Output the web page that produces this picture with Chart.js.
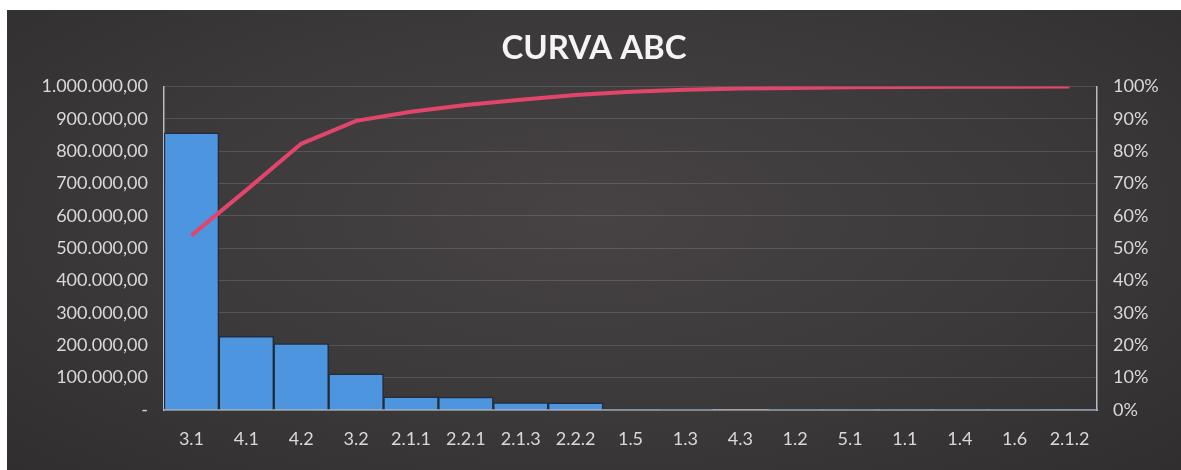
<!DOCTYPE html>
<html>
<head>
<meta charset="utf-8">
<title>Curva ABC</title>
<script src="https://cdn.jsdelivr.net/npm/chart.js@4"></script>
<style>
  html, body { margin: 0; padding: 0; background: #fff; }
  body { width: 1181px; height: 470px; overflow: hidden; position: relative; }
  .panel {
    position: absolute;
    left: 7px;
    top: 10px;
    width: 1174px;
    height: 460px;
    background: radial-gradient(ellipse at 50% 45%, #474345 0%, #3c393b 55%, #302e2f 100%);
  }
</style>
</head>
<body>
<div class="panel">
  <canvas id="abcChart" width="1174" height="460"></canvas>
</div>

<script>
// Data
const categories = ["3.1", "4.1", "4.2", "3.2", "2.1.1", "2.2.1", "2.1.3", "2.2.2", "1.5", "1.3", "4.3", "1.2", "5.1", "1.1", "1.4", "1.6", "2.1.2"];
const values = [857000, 228000, 205000, 112000, 41000, 40000, 23000, 22000, 3000, 2000, 1500, 1200, 1000, 800, 500, 300, 200];
const cumulativePct = [54, 68, 82.3, 89.4, 92.2, 94.3, 95.9, 97.4, 98.4, 99.0, 99.4, 99.6, 99.8, 99.9, 99.95, 99.98, 100];

const TEXT_COLOR = "#dcd8d9";
const AXIS_COLOR = "#bdbabb";
const FONT = "Lato";

// Format number as 1.000.000,00 (pt-BR), zero as "-"
function formatBRL(v) {
  if (v === 0) return "-";
  const parts = v.toFixed(2).split(".");
  const intPart = parts[0].replace(/\B(?=(\d{3})+(?!\d))/g, ".");
  return intPart + "," + parts[1];
}

const ctx = document.getElementById("abcChart");

new Chart(ctx, {
  data: {
    labels: categories,
    datasets: [
      {
        type: "line",
        label: "% acumulado",
        data: cumulativePct,
        yAxisID: "y1",
        borderColor: "#e2456b",
        borderWidth: 4,
        pointRadius: 0,
        tension: 0,
        order: 0
      },
      {
        type: "bar",
        label: "Valor",
        data: values,
        yAxisID: "y",
        backgroundColor: "#4e95e0",
        borderColor: "#222c3a",
        borderWidth: 1.5,
        categoryPercentage: 1,
        barPercentage: 1,
        order: 1
      }
    ]
  },
  options: {
    responsive: false,
    animation: false,
    layout: { padding: 0 },
    plugins: {
      legend: { display: false },
      tooltip: { enabled: false },
      title: {
        display: true,
        text: "CURVA ABC",
        color: "#f4f4f4",
        font: { family: FONT, size: 33, weight: "bold" },
        padding: { top: 19, bottom: 18 }
      }
    },
    scales: {
      x: {
        grid: { display: false, drawTicks: false },
        border: { display: true, color: AXIS_COLOR, width: 1.5 },
        ticks: {
          color: TEXT_COLOR,
          font: { family: FONT, size: 18 },
          padding: 18,
          maxRotation: 0,
          autoSkip: false
        },
        afterFit: scale => { scale.height = 60; }
      },
      y: {
        position: "left",
        min: 0,
        max: 1000000,
        grid: { color: "rgba(255,255,255,0.13)", lineWidth: 1, drawTicks: false },
        border: { display: true, color: AXIS_COLOR, width: 1.5 },
        ticks: {
          stepSize: 100000,
          color: TEXT_COLOR,
          font: { family: FONT, size: 18 },
          padding: 16,
          callback: v => formatBRL(v)
        },
        afterFit: scale => { scale.width = 157; }
      },
      y1: {
        position: "right",
        min: 0,
        max: 100,
        grid: { display: false, drawTicks: false },
        border: { display: true, color: AXIS_COLOR, width: 1.5 },
        ticks: {
          stepSize: 10,
          color: TEXT_COLOR,
          font: { family: FONT, size: 18 },
          padding: 16,
          callback: v => v + "%"
        },
        afterFit: scale => { scale.width = 84; }
      }
    }
  }
});
</script>
</body>
</html>
